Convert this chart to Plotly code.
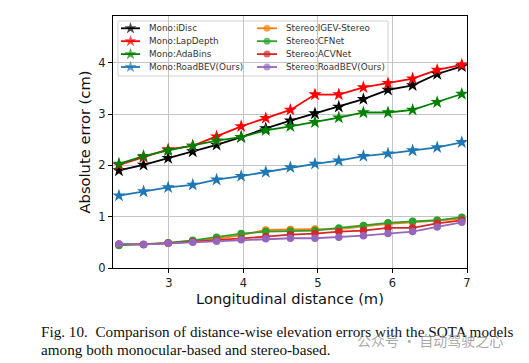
import plotly.graph_objects as go

# ---------------- data ----------------
distance = [2.33, 2.66, 2.99, 3.32, 3.64, 3.97, 4.30, 4.63, 4.96, 5.28, 5.61, 5.94, 6.27, 6.60, 6.93]

mono_idisc = [1.90, 2.01, 2.14, 2.27, 2.40, 2.55, 2.72, 2.87, 3.01, 3.14, 3.29, 3.47, 3.56, 3.78, 3.93]
mono_lapdepth = [2.01, 2.16, 2.31, 2.38, 2.56, 2.76, 2.92, 3.08, 3.38, 3.38, 3.52, 3.60, 3.69, 3.86, 3.96]
mono_adabins = [2.03, 2.18, 2.29, 2.38, 2.48, 2.55, 2.68, 2.76, 2.84, 2.93, 3.03, 3.03, 3.08, 3.23, 3.39]
mono_roadbev = [1.41, 1.49, 1.57, 1.62, 1.72, 1.79, 1.87, 1.96, 2.03, 2.09, 2.18, 2.23, 2.29, 2.35, 2.45]

stereo_igev = [0.45, 0.46, 0.49, 0.53, 0.57, 0.64, 0.74, 0.75, 0.76, 0.76, 0.81, 0.86, 0.89, 0.93, 0.96]
stereo_cfnet = [0.44, 0.46, 0.49, 0.54, 0.60, 0.67, 0.71, 0.72, 0.73, 0.78, 0.83, 0.88, 0.91, 0.93, 0.99]
stereo_acvnet = [0.47, 0.46, 0.48, 0.51, 0.54, 0.57, 0.61, 0.65, 0.67, 0.71, 0.73, 0.78, 0.78, 0.87, 0.93]
stereo_roadbev = [0.47, 0.46, 0.48, 0.50, 0.52, 0.55, 0.57, 0.58, 0.58, 0.60, 0.63, 0.67, 0.71, 0.80, 0.89]

series_names = ["Mono:iDisc", "Mono:LapDepth", "Mono:AdaBins", "Mono:RoadBEV(Ours)",
                "Stereo:IGEV-Stereo", "Stereo:CFNet", "Stereo:ACVNet", "Stereo:RoadBEV(Ours)"]
series_values = [mono_idisc, mono_lapdepth, mono_adabins, mono_roadbev,
                 stereo_igev, stereo_cfnet, stereo_acvnet, stereo_roadbev]

x_ticks = [3, 4, 5, 6, 7]
y_ticks = [0, 1, 2, 3, 4]
x_title = "Longitudinal distance (m)"
y_title = "Absolute error (cm)"
caption_lines = ["Fig. 10.\u00a0 Comparison of distance-wise elevation errors with the SOTA models",
                 "among both monocular-based and stereo-based."]
watermark = "公众号 · 自动驾驶之心"

# ---------------- style ----------------
colors = ["#000000", "#ff0000", "#008000", "#1f77b4",
          "#ff7f0e", "#2ca02c", "#d62728", "#9467bd"]
symbols = ["star"] * 4 + ["circle"] * 4
msizes = [10] * 4 + [7.5] * 4
OFF = 8                      # page body margin added by the browser
W, H = 529 - OFF, 363 - OFF
# plot area in window pixels
PL, PR, PT, PB = 113, 467, 16, 268
L, R, T, B = PL - OFF, PR - OFF, PT - OFF, PB - OFF
FONT = "DejaVu Sans"

fig = go.Figure()

for name, vals, c, s, ms in zip(series_names, series_values, colors, symbols, msizes):
    fig.add_trace(go.Scatter(
        x=distance, y=vals, name=name, mode="lines+markers",
        line=dict(color=c, width=1.8),
        marker=dict(symbol=s, size=ms, color=c, line=dict(width=0)),
        showlegend=False, cliponaxis=False,
    ))


def px2paper(px, py):
    """window pixel -> paper coordinates"""
    return (px - PL) / (PR - PL), (PB - py) / (PB - PT)


# ---------------- legend (manual, compact like matplotlib) ----------------
leg_box = (118, 21, 388, 76)
row0, row_step = 28.3, 12.9
col_line = [(121, 140), (257, 277)]
col_text = [147, 284]
for i, (name, c, s) in enumerate(zip(series_names, colors, symbols)):
    col, row = divmod(i, 4)
    y = row0 + row * row_step
    x0, x1 = col_line[col]
    fig.add_trace(go.Scatter(
        x=[x0, (x0 + x1) / 2, x1], y=[y, y, y], xaxis="x2", yaxis="y2",
        mode="lines+markers", line=dict(color=c, width=1.8),
        marker=dict(symbol=s, size=[0, 9 if s == "star" else 7, 0], color=c, line=dict(width=0)),
        showlegend=False, hoverinfo="skip", cliponaxis=False,
    ))
    fig.add_annotation(x=col_text[col], y=y, xref="x2", yref="y2", text=name,
                       showarrow=False, xanchor="left", yanchor="middle",
                       font=dict(family=FONT, size=8.8, color="#333333"))

bx0, by0 = px2paper(leg_box[0], leg_box[3])
bx1, by1 = px2paper(leg_box[2], leg_box[1])
fig.add_shape(type="rect", xref="paper", yref="paper",
              x0=bx0, y0=by0, x1=bx1, y1=by1,
              fillcolor="rgba(255,255,255,0.8)", line=dict(color="#d0d0d0", width=1),
              layer="between")

# caption
for k, line in enumerate(caption_lines):
    px, py = px2paper(39, 331.5 + k * 18.3)
    fig.add_annotation(x=px, y=py, xref="paper", yref="paper", text=line,
                       showarrow=False, xanchor="left", yanchor="middle",
                       font=dict(family="Liberation Serif", size=15.2, color="#111111"))

# watermark
px, py = px2paper(355, 340)
fig.add_annotation(x=px, y=py, xref="paper", yref="paper", text=watermark,
                   showarrow=False, xanchor="left", yanchor="middle",
                   font=dict(family="Noto Sans CJK SC", size=14, color="rgba(140,140,140,0.75)"))

axis_common = dict(
    showline=True, linecolor="black", linewidth=1, mirror=True,
    ticks="outside", ticklen=4, tickwidth=1, tickcolor="black",
    showgrid=True, gridcolor="#c4c4c4", gridwidth=1, zeroline=False,
    tickfont=dict(family=FONT, size=11.5, color="#222222"),
)

fig.update_layout(
    width=W, height=H, autosize=False,
    margin=dict(l=L, r=W - R, t=T, b=H - B, pad=0),
    paper_bgcolor="white", plot_bgcolor="white",
    showlegend=False,
    xaxis=dict(range=[2.25, 7.0], tickvals=x_ticks, **axis_common,
               title=dict(text=x_title, font=dict(family=FONT, size=14.7, color="#111111"), standoff=3)),
    yaxis=dict(range=[0, 4.91], tickvals=y_ticks, **axis_common,
               title=dict(text=y_title, font=dict(family=FONT, size=14.7, color="#111111"), standoff=4)),
    xaxis2=dict(overlaying="x", range=[PL, PR], visible=False, fixedrange=True),
    yaxis2=dict(overlaying="y", range=[PB, PT], visible=False, fixedrange=True),
)

fig.write_html("out.html")
